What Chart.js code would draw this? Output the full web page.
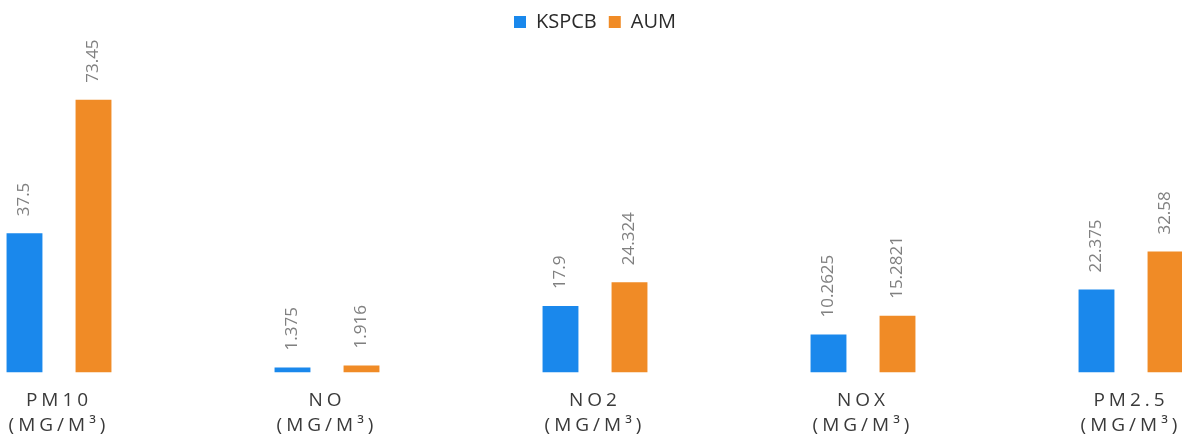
<!DOCTYPE html>
<html>
<head>
    <title>KSPCB vs AUM</title>
    <script src="https://cdn.jsdelivr.net/npm/chart.js"></script>
    <style>
        html, body { margin: 0; padding: 0; background: #fff; overflow: hidden; }
        #wrap { position: absolute; left: -75px; top: 0; width: 1340px; height: 446px; }
    </style>
</head>
<body>
    <div id="wrap"><canvas id="airChart"></canvas></div>

    <script>
        var categories = [
            ['PM10', '(MG/M³)'],
            ['NO', '(MG/M³)'],
            ['NO2', '(MG/M³)'],
            ['NOX', '(MG/M³)'],
            ['PM2.5', '(MG/M³)']
        ];
        var kspcbValues = [37.5, 1.375, 17.9, 10.2625, 22.375];
        var aumValues = [73.45, 1.916, 24.324, 15.2821, 32.58];
        var kspcbLabels = ['37.5', '1.375', '17.9', '10.2625', '22.375'];
        var aumLabels = ['73.45', '1.916', '24.324', '15.2821', '32.58'];

        // rotated value labels above each bar, then letter spacing for the axis text
        var valueLabels = {
            id: 'valueLabels',
            afterDatasetsDraw: function(chart) {
                var ctx = chart.ctx;
                var texts = [kspcbLabels, aumLabels];
                chart.data.datasets.forEach(function(ds, i) {
                    chart.getDatasetMeta(i).data.forEach(function(bar, j) {
                        ctx.save();
                        ctx.translate(bar.x, bar.y - 17);
                        ctx.rotate(-Math.PI / 2);
                        ctx.font = '17px "Open Sans"';
                        ctx.fillStyle = '#808080';
                        ctx.textAlign = 'left';
                        ctx.textBaseline = 'middle';
                        ctx.fillText(texts[i][j], 0, 0);
                        ctx.restore();
                    });
                });
                ctx.letterSpacing = '4px';
            },
            afterDraw: function(chart) {
                chart.ctx.letterSpacing = '0px';
            }
        };

        var ctx = document.getElementById('airChart').getContext('2d');
        var airChart = new Chart(ctx, {
            type: 'bar',
            data: {
                labels: categories,
                datasets: [{
                    label: 'KSPCB',
                    data: kspcbValues,
                    backgroundColor: '#1a88ec',
                    categoryPercentage: 0.515,
                    barPercentage: 0.52
                }, {
                    label: 'AUM',
                    data: aumValues,
                    backgroundColor: '#f08b26',
                    categoryPercentage: 0.515,
                    barPercentage: 0.52
                }]
            },
            options: {
                responsive: true,
                maintainAspectRatio: false,
                animation: false,
                layout: { padding: 0 },
                plugins: {
                    tooltip: { enabled: false },
                    legend: {
                        position: 'top',
                        labels: {
                            boxWidth: 12,
                            boxHeight: 12,
                            color: '#2a2a2a',
                            font: { family: 'Open Sans', size: 20 },
                            padding: 12
                        }
                    }
                },
                scales: {
                    x: {
                        grid: { display: false },
                        border: { display: false },
                        ticks: {
                            z: 1,
                            color: '#3a3a3a',
                            font: { family: 'Open Sans', size: 19, lineHeight: 1.3 },
                            padding: 8,
                            maxRotation: 0
                        }
                    },
                    y: {
                        display: false,
                        min: 0,
                        max: 89
                    }
                }
            },
            plugins: [valueLabels]
        });
    </script>
</body>
</html>
